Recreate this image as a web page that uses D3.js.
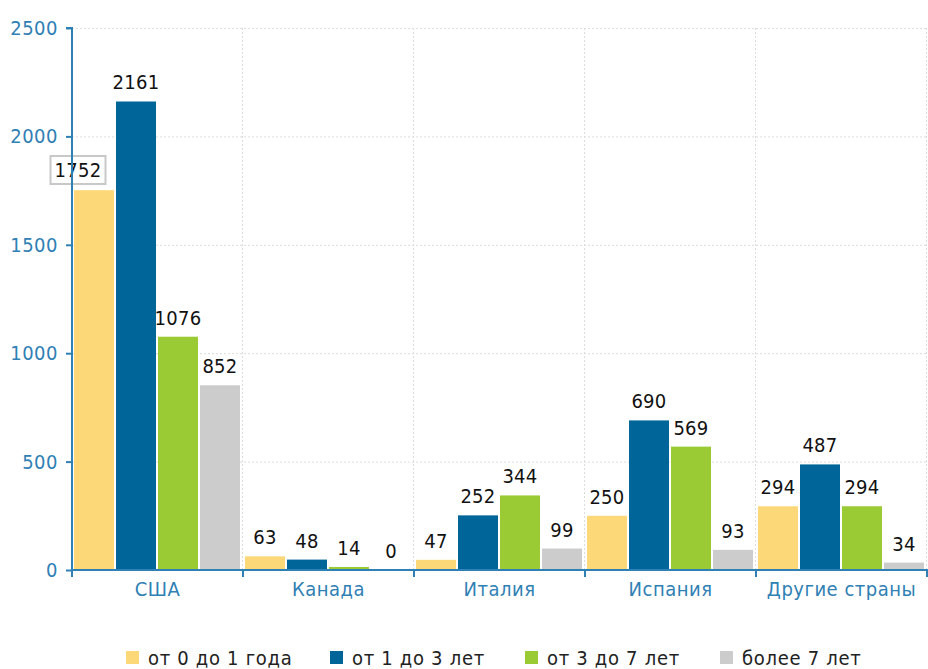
<!DOCTYPE html>
<html>
<head>
<meta charset="utf-8">
<script src="https://cdn.jsdelivr.net/npm/d3@7"></script>
<style>
  body { margin: 0; background: #fff; }
  svg text { font-family: "DejaVu Sans Condensed", "Liberation Sans", sans-serif; }
</style>
</head>
<body>
<svg id="chart" width="928" height="669"></svg>
<script>
// данные
let categories = ["США", "Канада", "Италия", "Испания", "Другие страны"]
let seriesNames = ["от 0 до 1 года", "от 1 до 3 лет", "от 3 до 7 лет", "более 7 лет"]
let s0to1 = [1752, 63, 47, 250, 294]
let s1to3 = [2161, 48, 252, 690, 487]
let s3to7 = [1076, 14, 344, 569, 294]
let s7plus = [852, 0, 99, 93, 34]
let yTicks = [0, 500, 1000, 1500, 2000, 2500]
let colors = ["#fdd878", "#006699", "#9aca34", "#cccccc"]

let seriesValues = [s0to1, s1to3, s3to7, s7plus]
let axisColor = "#2f80b4"

let margin = { top: 28, right: 1, bottom: 99, left: 72 }
let width = 928, height = 669

let svg = d3.select("#chart")

let xScale_0 = d3.scaleBand()
    .domain(categories)
    .range([margin.left, width - margin.right])
    .padding(0)

let xScale_1 = d3.scaleBand()
    .domain(seriesNames)
    .range([2, xScale_0.bandwidth() - 1])

let yScale = d3.scaleLinear()
    .domain([0, 2500])
    .range([height - margin.bottom, margin.top])

// сетка
let grid = svg.append("g")
grid.selectAll("line.h")
    .data(yTicks.filter(d => d > 0))
    .enter().append("line")
    .attr("x1", margin.left).attr("x2", width - margin.right)
    .attr("y1", d => yScale(d) + 0.5).attr("y2", d => yScale(d) + 0.5)
    .attr("stroke", "#dcdcdc").attr("stroke-dasharray", "2,2")
grid.selectAll("line.v")
    .data(categories)
    .enter().append("line")
    .attr("x1", d => xScale_0(d) + xScale_0.bandwidth() - 0.5)
    .attr("x2", d => xScale_0(d) + xScale_0.bandwidth() - 0.5)
    .attr("y1", yScale(2500)).attr("y2", yScale(0))
    .attr("stroke", "#dcdcdc").attr("stroke-dasharray", "2,2")

// столбцы
let rows = categories.map(function (c, i) {
    return seriesNames.map(function (s, j) { return { category: c, key: s, idx: j, value: seriesValues[j][i] } })
})

let groups = svg.append("g")
    .selectAll("g")
    .data(rows)
    .enter().append("g")
    .attr("transform", (d, i) => "translate(" + xScale_0(categories[i]) + ",0)")

groups.selectAll("rect")
    .data(d => d)
    .enter().append("rect")
    .attr("x", d => xScale_1(d.key))
    .attr("y", d => yScale(d.value))
    .attr("width", xScale_1.bandwidth() - 2)
    .attr("height", d => yScale(0) - yScale(d.value))
    .attr("fill", d => colors[d.idx])

groups.selectAll("text")
    .data(d => d)
    .enter().append("text")
    .attr("x", d => xScale_1(d.key) + (xScale_1.bandwidth() - 2) / 2)
    .attr("y", d => yScale(d.value) - 12)
    .attr("text-anchor", "middle")
    .attr("font-size", "20px")
    .attr("letter-spacing", "0.3px")
    .attr("fill", "#111")
    .text(d => d.value)

// подпись 1752 в рамке
let boxed = groups.selectAll("text").filter(d => d.value === 1752)
boxed.attr("x", -xScale_0(categories[0]) + 78).attr("y", 177)
let bb = boxed.node().getBBox()
d3.select(boxed.node().parentNode).insert("rect", "text")
    .attr("x", bb.x - 4).attr("y", bb.y - 2)
    .attr("width", bb.width + 8).attr("height", bb.height + 4)
    .attr("fill", "#fff").attr("stroke", "#c8c8c8").attr("stroke-width", 2)

// оси
let yAxis = svg.append("g")
    .attr("transform", "translate(" + margin.left + ",0)")
    .call(d3.axisLeft(yScale).tickValues(yTicks).tickFormat(d3.format("d")).tickSize(6).tickPadding(8))
let xAxis = svg.append("g")
    .attr("transform", "translate(0," + yScale(0) + ")")
    .call(d3.axisBottom(xScale_0).tickSize(0).tickPadding(12))
xAxis.selectAll(".tick line").remove()
xAxis.selectAll("line.sep")
    .data([margin.left].concat(categories.map(c => xScale_0(c) + xScale_0.bandwidth())))
    .enter().append("line")
    .attr("x1", d => d).attr("x2", d => d)
    .attr("y1", 0).attr("y2", 7)
    .attr("stroke", axisColor).attr("stroke-width", 2)

for (let ax of [yAxis, xAxis]) {
    ax.select(".domain").attr("stroke", axisColor).attr("stroke-width", 2)
    ax.selectAll(".tick line").attr("stroke", axisColor).attr("stroke-width", 2)
    ax.selectAll("text").attr("fill", axisColor).attr("font-size", "20px")
        .attr("letter-spacing", "0.5px")
        .style("font-family", "\"DejaVu Sans Condensed\", \"Liberation Sans\", sans-serif")
}
xAxis.select(".domain").attr("d", "M" + margin.left + ",0H" + width)
yAxis.select(".domain").attr("d", "M-6," + yScale(2500) + "H0V" + yScale(0))

// легенда
let legendX = [126, 330, 525, 720]
let legend = svg.append("g")
    .selectAll("g")
    .data(seriesNames)
    .enter().append("g")
    .attr("transform", (d, i) => "translate(" + legendX[i] + ",651)")
legend.append("rect")
    .attr("width", 13).attr("height", 13)
    .attr("fill", (d, i) => colors[i])
legend.append("text")
    .attr("x", 22).attr("y", 14)
    .attr("font-size", "20px")
    .attr("letter-spacing", "0.7px")
    .attr("fill", "#222")
    .text(d => d)
</script>
</body>
</html>
